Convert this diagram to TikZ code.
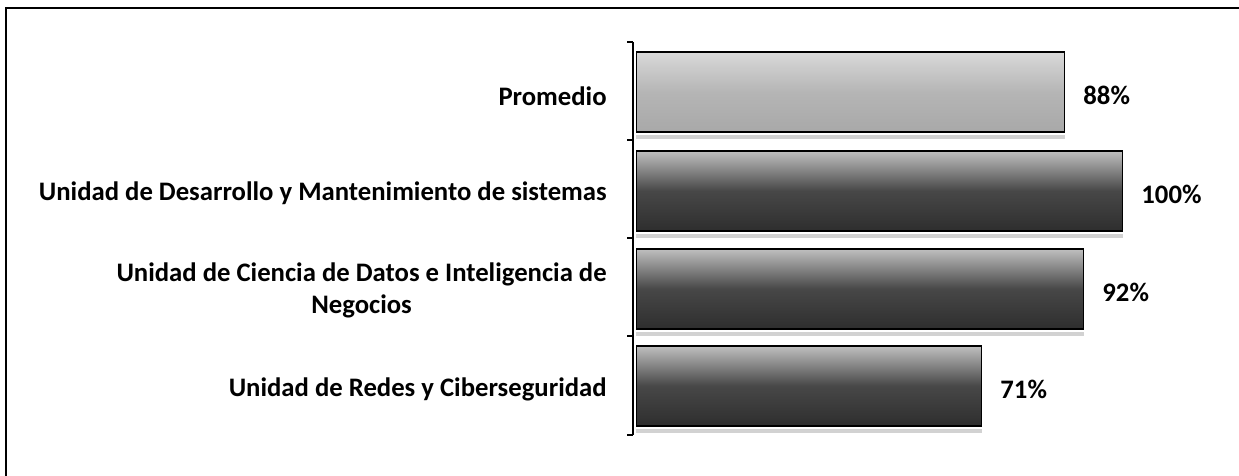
\documentclass[tikz,border=0pt]{standalone}
\usepackage{fontspec}
\setmainfont{Carlito}
\usetikzlibrary{positioning}

\begin{document}
\begin{tikzpicture}[x=0.02cm,y=-0.02cm]
	\tikzstyle{bar}=[draw=black, line width=0.6pt, minimum height=1.6cm, inner sep=0pt, anchor=west]
	\tikzstyle{darkbar}=[bar, top color=gray!50, bottom color=black!82, middle color=black!72]
	\tikzstyle{lightbar}=[bar, top color=gray!30, bottom color=gray!68, middle color=gray!58]
	\tikzstyle{cat}=[anchor=east, align=center, inner sep=0pt, font=\bfseries\fontsize{15.2}{18.2}\selectfont]
	\tikzstyle{val}=[right=0.36cm, anchor=west, inner sep=0pt, yshift=-0.06cm, font=\bfseries\fontsize{15.2}{18.2}\selectfont]
	\tikzstyle{shadow}=[gray!35, line width=2pt]
	
	\useasboundingbox (0,0) rectangle (1239,476);
	\draw[line width=0.8pt] (1239,8) -- (6,8) -- (6,476);
	
	% eje
	\draw[line width=0.8pt] (633,42) -- (633,435);
	\draw[line width=0.8pt] (627,42) -- (633,42);
	\draw[line width=0.8pt] (627,140) -- (633,140);
	\draw[line width=0.8pt] (627,238) -- (633,238);
	\draw[line width=0.8pt] (627,336) -- (633,336);
	\draw[line width=0.8pt] (627,435) -- (633,435);
	
	% barras
	\node at (636,92) [lightbar, minimum width=428*0.02cm] (prom) {};
	\node at (636,191) [darkbar, minimum width=486*0.02cm] (desa) {};
	\node at (636,289) [darkbar, minimum width=447*0.02cm] (cien) {};
	\node at (636,386) [darkbar, minimum width=345*0.02cm] (rede) {};
	
	\draw[shadow] ([yshift=-2.5pt]prom.south west) -- ([yshift=-2.5pt]prom.south east);
	\draw[shadow] ([yshift=-2.5pt]desa.south west) -- ([yshift=-2.5pt]desa.south east);
	\draw[shadow] ([yshift=-2.5pt]cien.south west) -- ([yshift=-2.5pt]cien.south east);
	\draw[shadow] ([yshift=-2.5pt]rede.south west) -- ([yshift=-2.5pt]rede.south east);
	
	% valores
	\node [val] at (prom.east) (vprom) {88\%};
	\node [val] at (desa.east) (vdesa) {100\%};
	\node [val] at (cien.east) (vcien) {92\%};
	\node [val] at (rede.east) (vrede) {71\%};
	
	% categorias
	\node at (607,96) [cat] (lprom) {Promedio};
	\node at (607,193) [cat] (ldesa) {Unidad de Desarrollo y Mantenimiento de sistemas};
	\node at (607,290) [cat] (lcien) {Unidad de Ciencia de Datos e Inteligencia de\\Negocios};
	\node at (607,389) [cat] (lrede) {Unidad de Redes y Ciberseguridad};
\end{tikzpicture}
\end{document}
